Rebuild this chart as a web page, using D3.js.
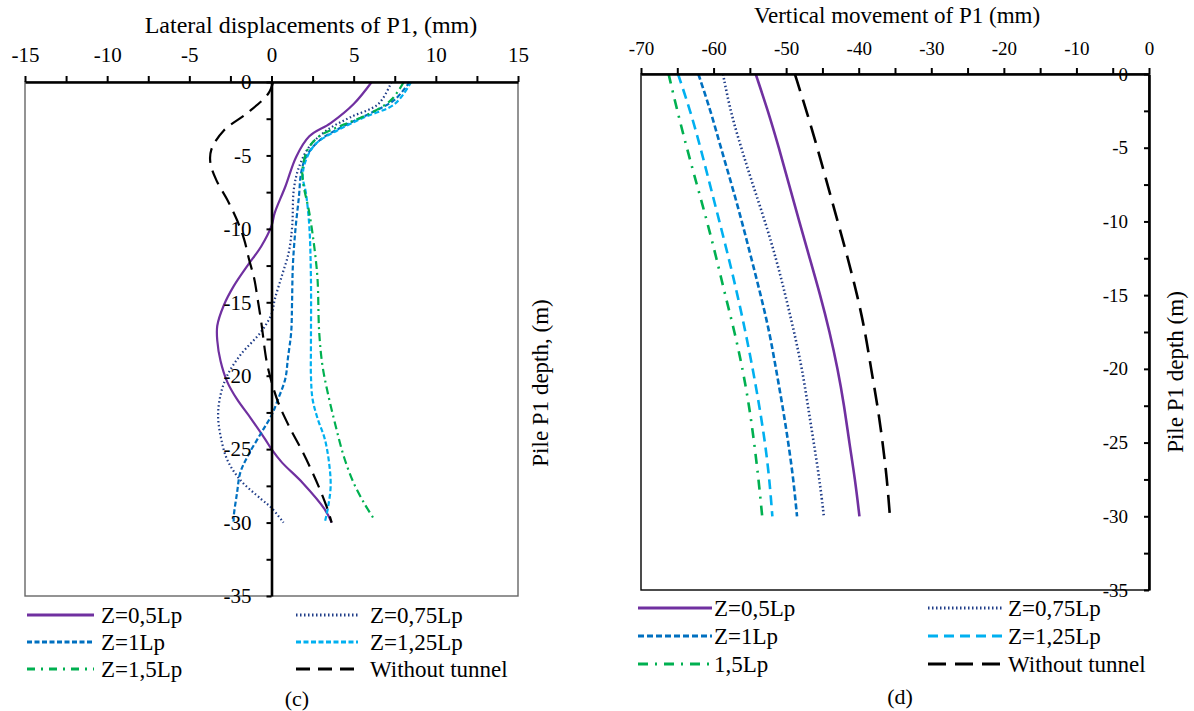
<!DOCTYPE html>
<html>
<head>
<meta charset="utf-8">
<script src="https://cdn.jsdelivr.net/npm/d3@7/dist/d3.min.js"></script>
<style>
  body { margin: 0; background: #fff; }
  svg { display: block; font-family: 'Liberation Serif', 'Times New Roman', serif; }
</style>
</head>
<body>
<div id="chart"></div>
<script>
// [1] DATA
// each point is [value (mm), depth (m)]
const latZ05 = [[6.1, 0], [5.0, -1.5], [3.6, -2.8], [2.3, -3.7], [1.5, -5.1], [0.85, -7.1], [0.2, -8.9], [0, -9.8],
  [-0.63, -11.2], [-1.46, -12.5], [-2.3, -13.9], [-2.9, -15.2], [-3.3, -16.6], [-3.3, -17.6], [-3.1, -19],
  [-2.7, -20.4], [-2.1, -21.6], [-1.26, -22.9], [-0.4, -24.3], [0, -25], [0.63, -25.9], [1.9, -27.3],
  [3.24, -29.1], [3.66, -30]];
const latZ075 = [[7.3, 0], [6.5, -1.5], [4.8, -2.4], [3.35, -3.3], [2.3, -4.4], [1.67, -5.8], [1.36, -7.3],
  [1.26, -9.8], [1.05, -11.6], [0.63, -13.2], [0.2, -14.8], [0, -15.8], [-0.63, -17], [-1.9, -18.6],
  [-2.7, -20], [-3.1, -21.3], [-3.25, -22.7], [-3.1, -24.1], [-2.7, -25.7], [-1.9, -27.1], [-0.63, -28.4],
  [0, -29], [0.73, -30]];
const latZ1 = [[8.4, 0], [7.5, -1.2], [6.07, -2.1], [4.4, -3.0], [2.9, -4], [2.1, -5.1], [1.8, -6.2], [1.67, -7.8],
  [1.46, -10], [1.3, -12.5], [1.25, -15], [1.2, -17], [1.0, -18.8], [0.84, -20.2], [0.4, -21.6], [0, -22.7],
  [-0.63, -23.9], [-1.46, -25.5], [-1.9, -26.6], [-2.1, -28], [-2.3, -29.6], [-2.3, -30]];
const latZ125 = [[8.5, 0], [7.5, -1.5], [5.65, -2.4], [4.0, -3.3], [2.7, -4.2], [2.1, -5.3], [1.9, -6.4],
  [2.1, -7.6], [2.3, -9.8], [2.4, -13.4], [2.4, -18], [2.4, -20], [2.5, -21.6], [2.8, -22.9], [3.24, -24.3],
  [3.5, -25.9], [3.6, -27.5], [3.45, -28.9], [3.24, -30]];
const latZ15 = [[8.05, 0], [7.3, -1.2], [6.07, -2.1], [4.4, -2.9], [2.9, -3.7], [2.2, -4.6], [1.9, -5.8],
  [1.9, -6.7], [2.3, -8.9], [2.6, -11.2], [2.8, -13.4], [2.9, -17], [3.1, -19.3], [3.45, -21.3], [3.9, -23.4],
  [4.4, -25.5], [5.0, -27.3], [5.65, -28.7], [6.2, -29.7]];
const latNoTunnel = [[0.1, 0], [-0.2, -0.8], [-1.46, -2.1], [-2.9, -3.3], [-3.66, -4.6], [-3.72, -5.5],
  [-3.35, -6.7], [-2.7, -8], [-2.1, -9.4], [-1.67, -10.7], [-1.36, -12.1], [-1.05, -13.4], [-0.84, -14.8],
  [-0.63, -16.3], [-0.3, -19], [0, -20.4], [0.4, -21.8], [1.05, -23.4], [1.9, -25.2], [2.7, -27.1],
  [3.35, -28.9], [3.66, -30]];

// vertical movement, same depths for every series
const vertDepths = [0, -2.5, -5, -7.5, -10, -12.5, -15, -17.5, -20, -22.5, -25, -27.5, -30];
const vertZ05 = [-54.2, -52.5, -51.0, -49.6, -48.2, -46.75, -45.3, -44.0, -42.9, -42.0, -41.3, -40.5, -39.9];
const vertZ075 = [-58.7, -57.7, -56.2, -54.6, -52.9, -51.4, -50.1, -48.9, -47.8, -47.0, -46.2, -45.4, -44.8];
const vertZ1 = [-62.1, -60.4, -59.0, -57.5, -56.1, -54.8, -53.5, -52.3, -51.4, -50.5, -49.7, -49.0, -48.5];
const vertZ125 = [-64.9, -63.2, -61.8, -60.5, -59.2, -57.9, -56.7, -55.6, -54.6, -53.7, -52.9, -52.3, -51.9];
const vertZ15 = [-66.2, -65.0, -63.7, -62.3, -60.9, -59.6, -58.4, -57.1, -56.0, -55.1, -54.4, -53.8, -53.3];
const vertNoTunnel = [-48.8, -47.2, -45.7, -44.3, -42.9, -41.5, -40.2, -39.1, -38.3, -37.4, -36.7, -36.1, -35.7];

// ticks
const latTicks = [-15, -12.5, -10, -7.5, -5, -2.5, 0, 2.5, 5, 7.5, 10, 12.5, 15];
const latLabels = [-15, -10, -5, 0, 5, 10, 15];
const vertTicks = [-70, -65, -60, -55, -50, -45, -40, -35, -30, -25, -20, -15, -10, -5, 0];
const vertLabels = [-70, -60, -50, -40, -30, -20, -10, 0];
const depthTicks = [0, -2.5, -5, -7.5, -10, -12.5, -15, -17.5, -20, -22.5, -25, -27.5, -30, -32.5, -35];
const depthLabels = [0, -5, -10, -15, -20, -25, -30, -35];

const legendLeft = ['Z=0,5Lp', 'Z=0,75Lp', 'Z=1Lp', 'Z=1,25Lp', 'Z=1,5Lp', 'Without tunnel'];
const legendRight = ['Z=0,5Lp', 'Z=0,75Lp', 'Z=1Lp', 'Z=1,25Lp', '1,5Lp', 'Without tunnel'];

// [2] STYLES
const colors = ['#7030a0', '#1f3c88', '#0070c0', '#00b0f0', '#00b050', '#000000'];
const dashLeft = [null, '1.5 2.5', '5 2.5', '5 2.5', '8 4 2 4', '15 8'];
const dashRight = [null, '1.5 2.5', '6 3', '10 6', '10 7 2 7', '18 9'];

// [3] DRAW IMAGE
const svg = d3.select('#chart').append('svg').attr('width', 1194).attr('height', 711);

// [4] SCALES
const xL = d3.scaleLinear().domain([-15, 15]).range([25, 518]);
const yL = d3.scaleLinear().domain([0, -35]).range([82, 596]);
const xR = d3.scaleLinear().domain([-70, 0]).range([641, 1149]);
const yR = d3.scaleLinear().domain([0, -35]).range([74, 590]);

const labelFmt = (labels) => (d) => (labels.includes(d) ? String(d) : '');

const styleAxis = (g, size) => {
  g.select('.domain').attr('stroke', '#000').attr('stroke-width', 2.6);
  g.selectAll('.tick line').attr('stroke', '#000').attr('stroke-width', 2);
  g.selectAll('.tick text').attr('font-size', size).attr('fill', '#000').attr('font-family', "'Liberation Serif', serif");
};

const drawPanel = (opts) => {
  const { x, y, xTicks, xLabels, tickSize, xPad, frameColor, yAxisPos, yPad } = opts;
  const g = svg.append('g');

  // frame
  g.append('rect')
    .attr('x', x.range()[0]).attr('y', y.range()[0])
    .attr('width', x.range()[1] - x.range()[0])
    .attr('height', y.range()[1] - y.range()[0])
    .attr('fill', 'none')
    .attr('stroke', frameColor)
    .attr('stroke-width', 1.4);

  // lines
  const lineGen = d3.line().x((d) => x(d[0])).y((d) => y(d[1])).curve(opts.curve);
  opts.series.forEach((s, i) => {
    g.append('path')
      .datum(s)
      .attr('d', lineGen)
      .attr('fill', 'none')
      .attr('stroke', colors[i])
      .attr('stroke-width', opts.lineWidth)
      .attr('stroke-dasharray', opts.dashes[i]);
  });

  // top axis
  const xAxis = d3.axisTop(x).tickValues(xTicks).tickFormat(labelFmt(xLabels))
    .tickSizeInner(6).tickSizeOuter(0).tickPadding(xPad);
  g.append('g').attr('transform', `translate(0,${y(0)})`).call(xAxis).call((a) => styleAxis(a, tickSize));

  // depth axis
  const yAxis = d3.axisLeft(y).tickValues(depthTicks).tickFormat(labelFmt(depthLabels))
    .tickSizeInner(5).tickSizeOuter(0).tickPadding(yPad);
  g.append('g').attr('transform', `translate(${x(yAxisPos)},0)`).call(yAxis).call((a) => styleAxis(a, tickSize));

  // titles
  g.append('text')
    .attr('x', opts.title.x).attr('y', opts.title.y)
    .attr('text-anchor', 'middle').attr('font-size', opts.title.size)
    .text(opts.title.text);

  g.append('text')
    .attr('transform', `translate(${opts.yTitle.x},${opts.yTitle.y}) rotate(-90)`)
    .attr('text-anchor', 'middle').attr('font-size', 23)
    .text(opts.yTitle.text);

  // legend
  opts.legend.labels.forEach((label, i) => {
    const col = i % 2;
    const row = Math.floor(i / 2);
    const cy = opts.legend.rows[row];
    const [x1, x2, tx] = opts.legend.cols[col];
    g.append('line')
      .attr('x1', x1).attr('x2', x2).attr('y1', cy).attr('y2', cy)
      .attr('stroke', colors[i]).attr('stroke-width', 3)
      .attr('stroke-dasharray', opts.legend.dashes[i]);
    g.append('text')
      .attr('x', tx).attr('y', cy).attr('dy', '0.35em')
      .attr('font-size', 23)
      .text(label);
  });

  g.append('text')
    .attr('x', opts.caption.x).attr('y', opts.caption.y)
    .attr('text-anchor', 'middle').attr('font-size', 22)
    .text(opts.caption.text);
};

// [5] LEFT PANEL (c)
drawPanel({
  x: xL, y: yL,
  xTicks: latTicks, xLabels: latLabels, tickSize: 21, xPad: 14, yPad: 15,
  frameColor: '#666', yAxisPos: 0,
  series: [latZ05, latZ075, latZ1, latZ125, latZ15, latNoTunnel],
  curve: d3.curveCatmullRom.alpha(0.5),
  lineWidth: 2.2, dashes: dashLeft,
  title: { x: 311, y: 33, size: 24, text: 'Lateral displacements of P1, (mm)' },
  yTitle: { x: 548, y: 383, text: 'Pile P1 depth, (m)' },
  legend: {
    labels: legendLeft,
    rows: [615, 642, 669],
    cols: [[27, 94, 101], [296, 358, 370]],
    dashes: [null, '1.5 2.5', '5 2.5', '5 2.5', '8 6 2 6', '14 8'],
  },
  caption: { x: 297, y: 706, text: '(c)' },
});

// [6] RIGHT PANEL (d)
const toPairs = (vals) => vals.map((v, i) => [v, vertDepths[i]]);
drawPanel({
  x: xR, y: yR,
  xTicks: vertTicks, xLabels: vertLabels, tickSize: 19, xPad: 13, yPad: 16,
  frameColor: '#000', yAxisPos: 0,
  series: [vertZ05, vertZ075, vertZ1, vertZ125, vertZ15, vertNoTunnel].map(toPairs),
  curve: d3.curveBasis,
  lineWidth: 2.6, dashes: dashRight,
  title: { x: 897, y: 23, size: 23, text: 'Vertical movement of P1 (mm)' },
  yTitle: { x: 1183, y: 372, text: 'Pile P1 depth (m)' },
  legend: {
    labels: legendRight,
    rows: [608, 636, 664],
    cols: [[638, 712, 714], [928, 1002, 1008]],
    dashes: [null, '1.5 2.5', '6 3', '10 6', '10 7 2 7', '18 9'],
  },
  caption: { x: 900, y: 704, text: '(d)' },
});
</script>
</body>
</html>
